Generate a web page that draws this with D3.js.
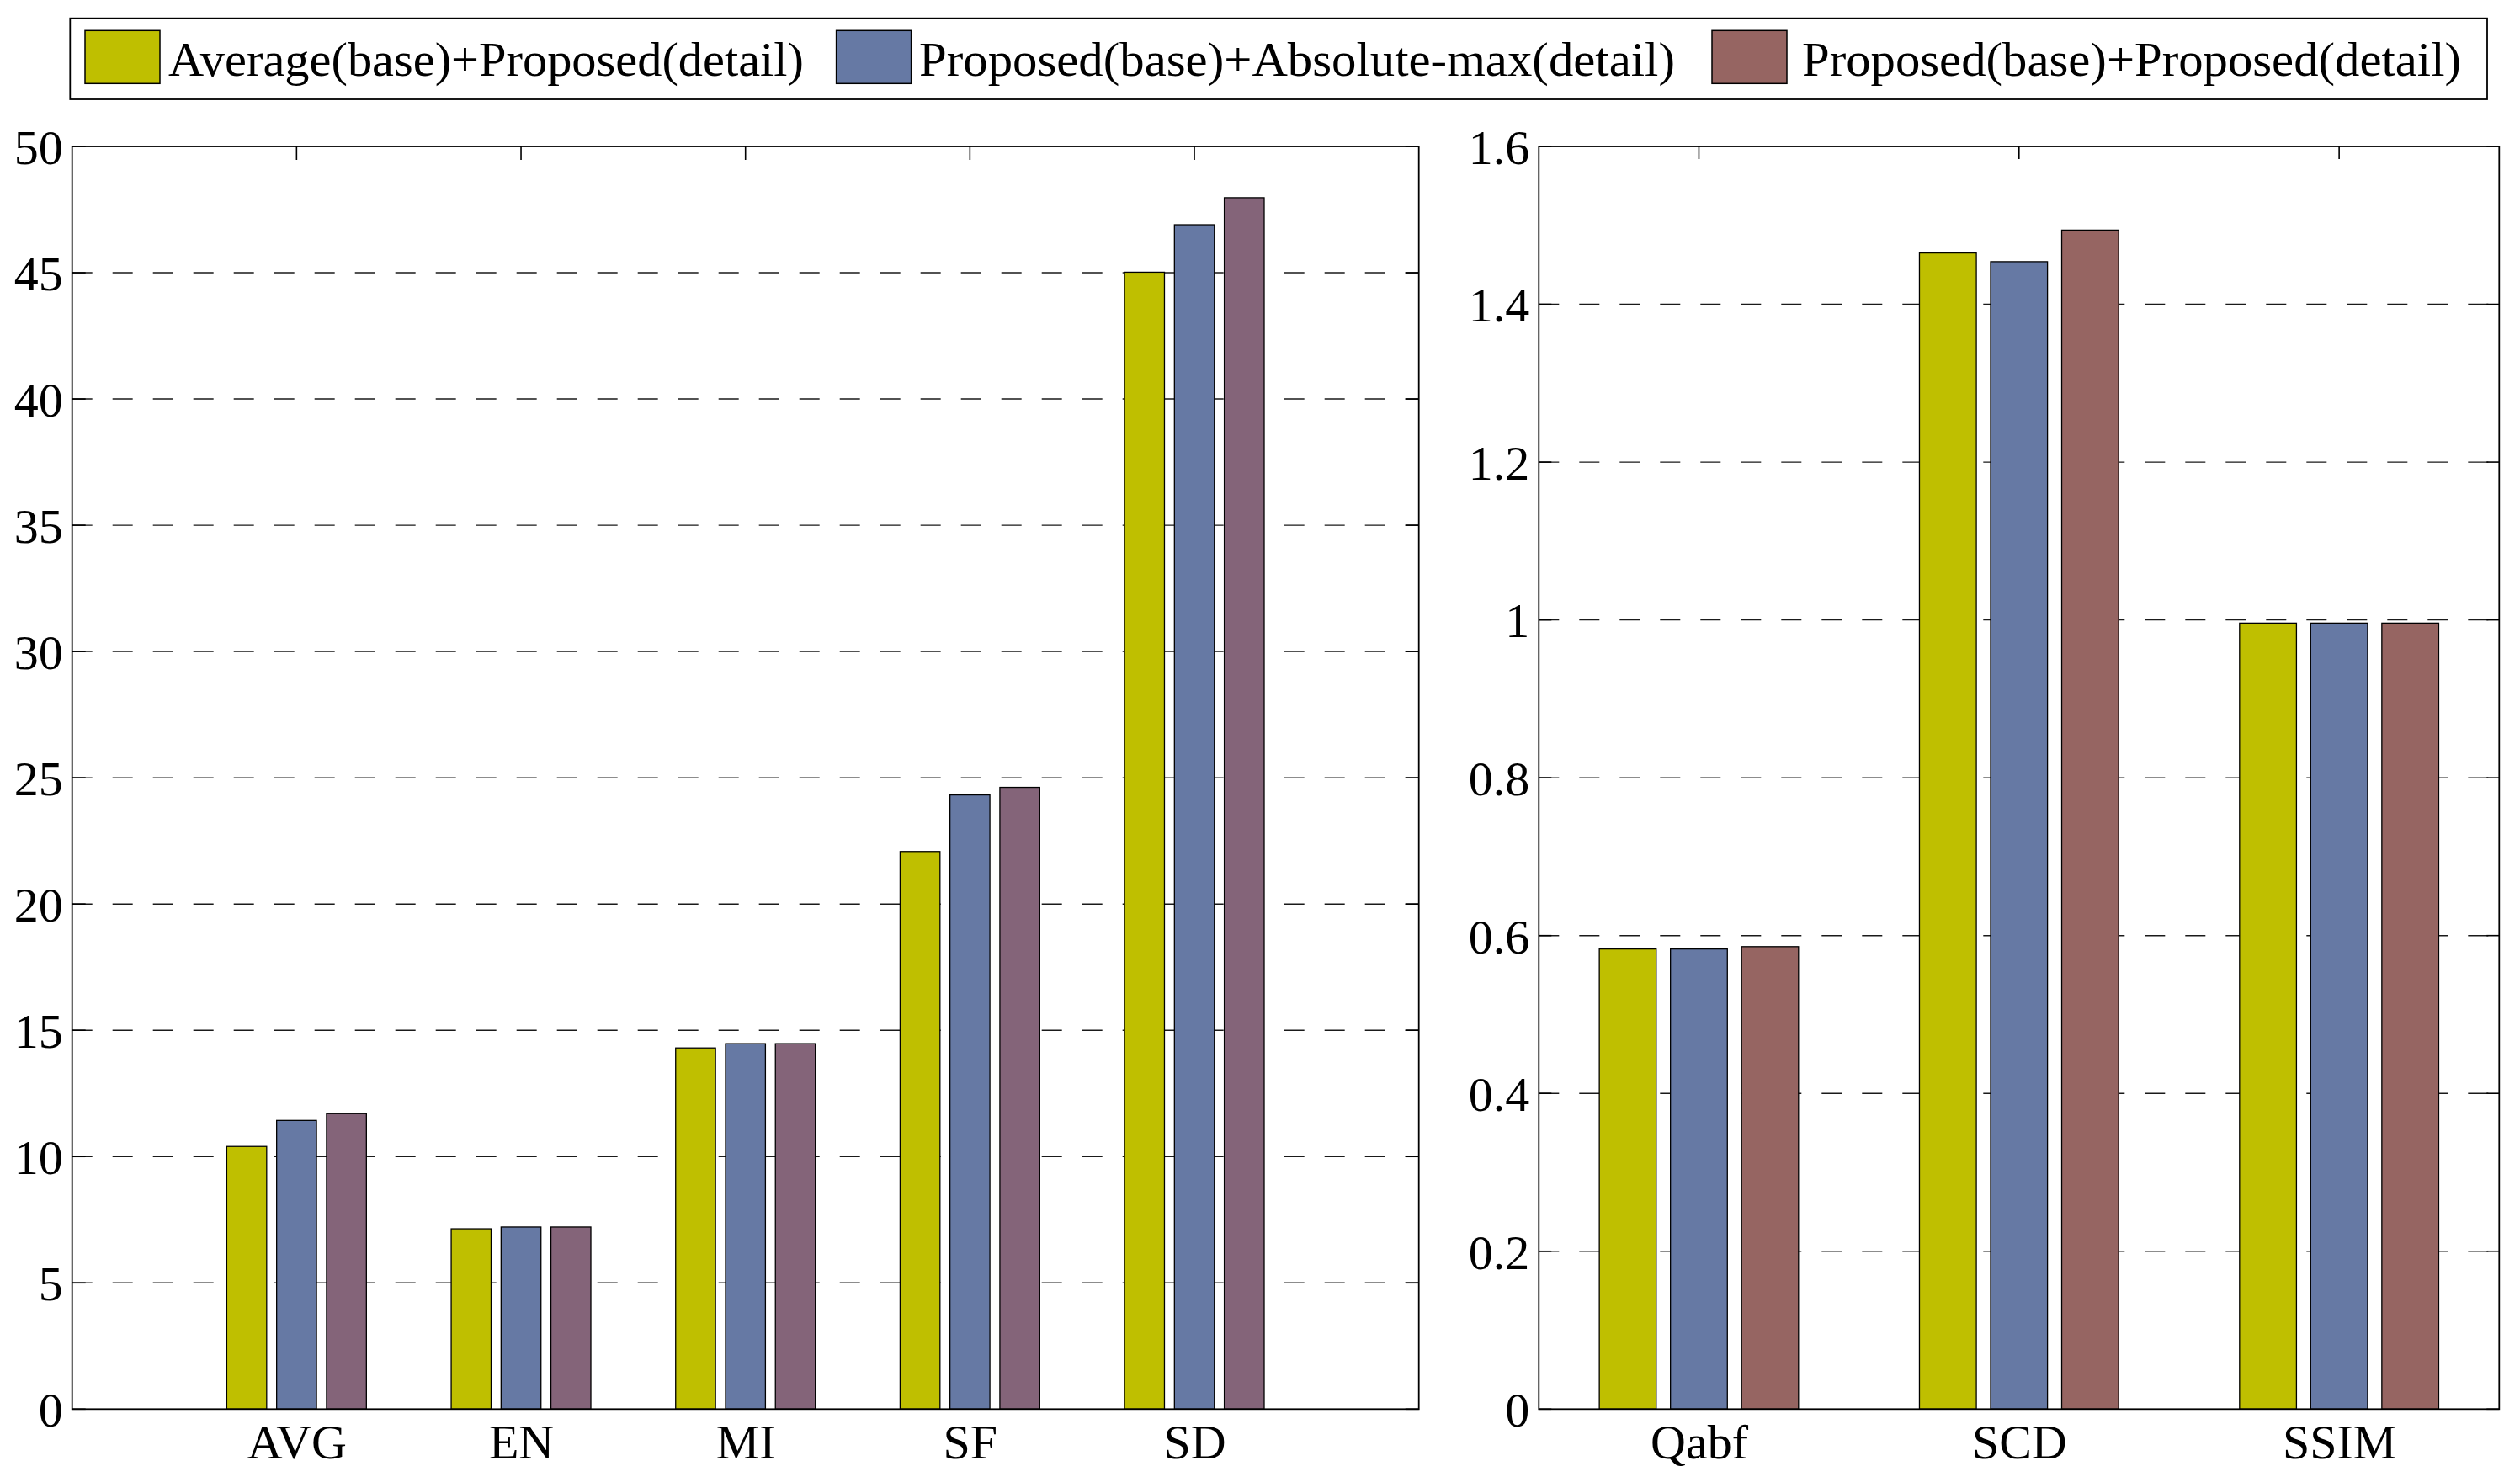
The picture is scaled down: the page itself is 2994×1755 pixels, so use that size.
<!DOCTYPE html>
<html>
<head>
<meta charset="utf-8">
<script src="https://cdn.jsdelivr.net/npm/d3@7"></script>
<style>
  html, body { margin: 0; padding: 0; background: #ffffff; }
  svg { display: block; }
  text { font-family: "Liberation Serif", "Times New Roman", serif; fill: #000; }
</style>
</head>
<body>
<svg id="chart" width="2994" height="1755"></svg>
<script>
// ---------------- data ----------------
const seriesNames = [
  "Average(base)+Proposed(detail)",
  "Proposed(base)+Absolute-max(detail)",
  "Proposed(base)+Proposed(detail)"
];

const leftCategories = ["AVG", "EN", "MI", "SF", "SD"];
const leftSeries1 = [10.40, 7.14, 14.30, 22.08, 45.02];
const leftSeries2 = [11.43, 7.21, 14.47, 24.32, 46.90];
const leftSeries3 = [11.70, 7.21, 14.47, 24.62, 47.97];
const leftTicks = [0, 5, 10, 15, 20, 25, 30, 35, 40, 45, 50];

const rightCategories = ["Qabf", "SCD", "SSIM"];
const rightSeries1 = [0.583, 1.465, 0.996];
const rightSeries2 = [0.583, 1.454, 0.996];
const rightSeries3 = [0.586, 1.494, 0.996];
const rightTicks = [0, 0.2, 0.4, 0.6, 0.8, 1, 1.2, 1.4, 1.6];

// ---------------- styles ----------------
const colorYellow = "#bfbf00";
const colorBlue = "#6679a4";
const colorPurpleLeft = "#846479";
const colorBrownRight = "#966562";
const fontSize = 58;
const fontFam = "'Liberation Serif', 'Times New Roman', serif";

const svg = d3.select("#chart");

const plotTop = 174, plotBottom = 1674.3;

function drawPanel(cfg) {
  const g = svg.append("g");
  const x = d3.scaleLinear().domain(cfg.xDomain).range([cfg.x0, cfg.x1]);
  const y = d3.scaleLinear().domain([0, cfg.yMax]).range([plotBottom, plotTop]);
  const tickLen = cfg.tickLen;

  // grid lines (dashed) for interior ticks
  g.append("g").selectAll("line")
    .data(cfg.ticks.filter(t => t > 0 && t < cfg.yMax))
    .join("line")
    .attr("x1", cfg.x0).attr("x2", cfg.x1)
    .attr("y1", d => y(d)).attr("y2", d => y(d))
    .attr("stroke", "#1a1a1a").attr("stroke-width", 1.4)
    .attr("stroke-dasharray", "24 24");

  // y ticks (left and right, inward)
  const yt = g.append("g");
  yt.selectAll("line.l").data(cfg.ticks).join("line").attr("class", "l")
    .attr("x1", cfg.x0).attr("x2", cfg.x0 + tickLen)
    .attr("y1", d => y(d)).attr("y2", d => y(d))
    .attr("stroke", "#000").attr("stroke-width", 1.6);
  yt.selectAll("line.r").data(cfg.ticks).join("line").attr("class", "r")
    .attr("x1", cfg.x1).attr("x2", cfg.x1 - tickLen)
    .attr("y1", d => y(d)).attr("y2", d => y(d))
    .attr("stroke", "#000").attr("stroke-width", 1.6);

  // x ticks (top and bottom, inward)
  const idx = cfg.categories.map((c, i) => i + 1);
  yt.selectAll("line.t").data(idx).join("line").attr("class", "t")
    .attr("x1", d => x(d)).attr("x2", d => x(d))
    .attr("y1", plotTop).attr("y2", plotTop + tickLen)
    .attr("stroke", "#000").attr("stroke-width", 1.6);
  yt.selectAll("line.b").data(idx).join("line").attr("class", "b")
    .attr("x1", d => x(d)).attr("x2", d => x(d))
    .attr("y1", plotBottom).attr("y2", plotBottom - tickLen)
    .attr("stroke", "#000").attr("stroke-width", 1.6);

  // bars (MATLAB grouped layout)
  const nS = cfg.series.length;
  const groupWidth = Math.min(0.8, nS / (nS + 1.5));
  const pitch = groupWidth / nS;
  const barW = 0.8 * pitch;
  cfg.series.forEach((vals, s) => {
    const off = (s - (nS - 1) / 2) * pitch;
    g.append("g").selectAll("rect")
      .data(vals)
      .join("rect")
      .attr("x", (d, i) => x(i + 1 + off - barW / 2))
      .attr("width", (d, i) => x(i + 1 + off + barW / 2) - x(i + 1 + off - barW / 2))
      .attr("y", d => y(d))
      .attr("height", d => y(0) - y(d))
      .attr("fill", cfg.colors[s])
      .attr("stroke", "#000").attr("stroke-width", 1.3);
  });

  // box
  g.append("rect")
    .attr("x", cfg.x0).attr("y", plotTop)
    .attr("width", cfg.x1 - cfg.x0).attr("height", plotBottom - plotTop)
    .attr("fill", "none").attr("stroke", "#000").attr("stroke-width", 1.8);

  // y axis labels
  const yAxis = d3.axisLeft(y).tickValues(cfg.ticks).tickSize(0).tickPadding(11)
    .tickFormat(d => String(+d.toFixed(1)));
  const ya = g.append("g").attr("transform", `translate(${cfg.x0},0)`).call(yAxis);
  ya.attr("font-family", null).attr("font-size", null);
  ya.select(".domain").remove();
  ya.selectAll("text").style("font-size", fontSize + "px")
    .style("font-family", fontFam)
    .attr("dy", "0.35em");

  // x axis labels
  const xAxis = d3.axisBottom(x).tickValues(idx).tickSize(0).tickPadding(18)
    .tickFormat(d => cfg.categories[d - 1]);
  const xa = g.append("g").attr("transform", `translate(0,${plotBottom})`).call(xAxis);
  xa.attr("font-family", null).attr("font-size", null);
  xa.select(".domain").remove();
  xa.selectAll("text").style("font-size", fontSize + "px")
    .style("font-family", fontFam);
}

drawPanel({
  x0: 85.7, x1: 1685.7, xDomain: [0, 6], yMax: 50, tickLen: 16,
  ticks: leftTicks, categories: leftCategories,
  series: [leftSeries1, leftSeries2, leftSeries3],
  colors: [colorYellow, colorBlue, colorPurpleLeft]
});

drawPanel({
  x0: 1828.3, x1: 2969.3, xDomain: [0.5, 3.5], yMax: 1.6, tickLen: 15,
  ticks: rightTicks, categories: rightCategories,
  series: [rightSeries1, rightSeries2, rightSeries3],
  colors: [colorYellow, colorBlue, colorBrownRight]
});

// ---------------- legend ----------------
const lg = svg.append("g");
lg.append("rect")
  .attr("x", 83.3).attr("y", 21.7).attr("width", 2955 - 83.3).attr("height", 118 - 21.7)
  .attr("fill", "#fff").attr("stroke", "#000").attr("stroke-width", 1.8);

const legendSwatchX = [101, 993.6, 2034];
const legendTextX = [200, 1092, 2141];
const legendTextW = [755, 898, 783];
const legendColors = [colorYellow, colorBlue, colorBrownRight];

lg.selectAll("rect.sw").data(seriesNames).join("rect").attr("class", "sw")
  .attr("x", (d, i) => legendSwatchX[i]).attr("y", 36.3)
  .attr("width", 89).attr("height", 63)
  .attr("fill", (d, i) => legendColors[i])
  .attr("stroke", "#000").attr("stroke-width", 1.5);

lg.selectAll("text").data(seriesNames).join("text")
  .attr("x", (d, i) => legendTextX[i]).attr("y", 90)
  .style("font-size", fontSize + "px")
  .style("font-family", fontFam)
  .attr("textLength", (d, i) => legendTextW[i])
  .attr("lengthAdjust", "spacingAndGlyphs")
  .text(d => d);
</script>
</body>
</html>
